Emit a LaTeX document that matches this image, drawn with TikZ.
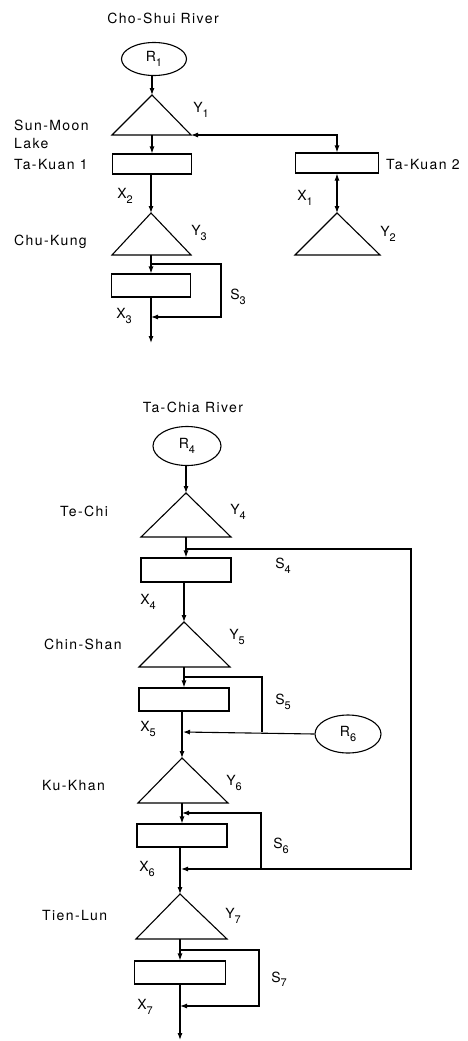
\documentclass[tikz,border=0pt]{standalone}
\usepackage{fontspec}
\setmainfont{TeX Gyre Heros}[LetterSpace=10]
\usetikzlibrary{shapes.geometric,arrows.meta}
\newcommand\sbx[1]{\raisebox{-0.32em}{\fontsize{11}{11}\selectfont #1}}
\tikzset{
  every node/.style={font=\fontsize{14}{16}\selectfont, inner sep=0pt},
  res/.style={draw, ellipse, line width=1.1pt},
  stor/.style={draw, rectangle, line width=1.1pt},
  ln/.style={line width=1.1pt},
  arr/.style={ln, -{Latex[length=7pt,width=5pt]}},
  darr/.style={ln, {Latex[length=7pt,width=5pt]}-{Latex[length=7pt,width=5pt]}},
  lbl/.style={anchor=center},
  sname/.style={anchor=west},
}
\begin{document}
\begin{tikzpicture}[x=1pt,y=-1pt]
\useasboundingbox (0,0) rectangle (467,1041);
% ---------------- Cho-Shui River ----------------
\node (titleA) at (163,18) {Cho-Shui River};
\node[res, minimum width=65pt, minimum height=33pt] (R1) at (154,59) {R\sbx{1}};
% triangle Y1
\coordinate (t1a) at (152,95);
\coordinate (t1l) at (112,135);
\coordinate (t1r) at (191,135);
\coordinate (t1b) at (152,135);
\draw[ln] (t1a) -- (t1l) -- (t1r) -- cycle;
\node[lbl] (lY1) at (201,110) {Y\sbx{1}};
\node[sname] (nSM) at (14,125) {Sun-Moon};
\node[sname] (nLake) at (14,144) {Lake};
\node[sname] (nTK1) at (14,165) {Ta-Kuan 1};
% rect Ta-Kuan 1
\node[stor, minimum width=79pt, minimum height=20pt] (B1) at (152,164) {};
% Ta-Kuan 2
\node[stor, minimum width=83pt, minimum height=20pt] (B2) at (337,163) {};
\node[sname] (nTK2) at (386,165) {Ta-Kuan 2};
\coordinate (t2a) at (337,213);
\coordinate (t2l) at (295,255);
\coordinate (t2r) at (380,255);
\draw[ln] (t2a) -- (t2l) -- (t2r) -- cycle;
\node[lbl] (lY2) at (388,234) {Y\sbx{2}};
\node[lbl] (lX1) at (305,198) {X\sbx{1}};
\node[lbl] (lX2) at (125,196) {X\sbx{2}};
% triangle Y3
\coordinate (t3a) at (151,213);
\coordinate (t3l) at (112,255);
\coordinate (t3r) at (191,255);
\coordinate (t3b) at (151,255);
\draw[ln] (t3a) -- (t3l) -- (t3r) -- cycle;
\node[lbl] (lY3) at (199,233) {Y\sbx{3}};
\node[sname] (nCK) at (14,242) {Chu-Kung};
\node[stor, minimum width=79pt, minimum height=23pt] (B3) at (151,285.5) {};
\node[lbl] (lS3) at (238,297) {S\sbx{3}};
\node[lbl] (lX3) at (124,316) {X\sbx{3}};
\coordinate (s3a) at (151,264);
\coordinate (s3b) at (151,317);
\coordinate (endA) at (151,343);
% connectors top
\draw[arr] (R1.south -| t1a) -- (t1a);
\draw[arr] (t1b) -- (B1.north -| t1b);
\draw[darr] (t1r) -- (t1r -| B2.north) -- (B2.north);
\draw[darr] (B2.south) -- (t2a);
\draw[arr] (B1.south -| t3a) -- (t3a);
\draw[arr] (t3b) -- (B3.north -| t3b);
\draw[arr] (s3a) -- (221,264) -- (221,317) -- (s3b);
\draw[arr] (B3.south -| endA) -- (endA);
% ---------------- Ta-Chia River ----------------
\node (titleB) at (193,407) {Ta-Chia River};
\node[res, minimum width=68pt, minimum height=39pt] (R4) at (187,446) {R\sbx{4}};
% Y4
\coordinate (t4a) at (186,493);
\coordinate (t4l) at (141,537);
\coordinate (t4r) at (231,537);
\coordinate (t4b) at (186,537);
\draw[ln] (t4a) -- (t4l) -- (t4r) -- cycle;
\node[lbl] (lY4) at (238,512) {Y\sbx{4}};
\node[sname] (nTC) at (60,511) {Te-Chi};
\node[stor, minimum width=90pt, minimum height=24pt] (B4) at (186,570) {};
\node[lbl] (lS4) at (283,566) {S\sbx{4}};
\node[lbl] (lX4) at (148,602) {X\sbx{4}};
% Y5
\coordinate (t5a) at (184,622);
\coordinate (t5l) at (139,667);
\coordinate (t5r) at (230,667);
\coordinate (t5b) at (184,667);
\draw[ln] (t5a) -- (t5l) -- (t5r) -- cycle;
\node[lbl] (lY5) at (237,637) {Y\sbx{5}};
\node[sname] (nCS) at (44,644) {Chin-Shan};
\node[stor, minimum width=90pt, minimum height=23pt] (B5) at (184,699.5) {};
\node[lbl] (lS5) at (283,702) {S\sbx{5}};
\node[lbl] (lX5) at (148,729) {X\sbx{5}};
\node[res, minimum width=66pt, minimum height=38pt] (R6) at (348,734) {R\sbx{6}};
% Y6
\coordinate (t6a) at (182,758);
\coordinate (t6l) at (138,803);
\coordinate (t6r) at (228,803);
\coordinate (t6b) at (182,803);
\draw[ln] (t6a) -- (t6l) -- (t6r) -- cycle;
\node[lbl] (lY6) at (234,783) {Y\sbx{6}};
\node[sname] (nKK) at (42,785) {Ku-Khan};
\node[stor, minimum width=90pt, minimum height=23pt] (B6) at (182,835.5) {};
\node[lbl] (lS6) at (281,846) {S\sbx{6}};
\node[lbl] (lX6) at (147,869) {X\sbx{6}};
% Y7
\coordinate (t7a) at (180,894);
\coordinate (t7l) at (136,939);
\coordinate (t7r) at (227,939);
\coordinate (t7b) at (180,939);
\draw[ln] (t7a) -- (t7l) -- (t7r) -- cycle;
\node[lbl] (lY7) at (233,916) {Y\sbx{7}};
\node[sname] (nTL) at (42,915) {Tien-Lun};
\node[stor, minimum width=91pt, minimum height=23pt] (B7) at (180,972.5) {};
\node[lbl] (lS7) at (279,979) {S\sbx{7}};
\node[lbl] (lX7) at (145,1007) {X\sbx{7}};
% junction coordinates
\coordinate (s4a) at (186,549);
\coordinate (s4b) at (181,869);
\coordinate (s5a) at (184,677);
\coordinate (s5b) at (183,732);
\coordinate (s5j) at (262,732);
\coordinate (s6a) at (182,813);
\coordinate (s7a) at (180,950);
\coordinate (s7b) at (180,1006);
\coordinate (endB) at (180,1040);
% connectors bottom
\draw[arr] (R4.south -| t4a) -- (t4a);
\draw[arr] (t4b) -- (B4.north -| t4b);
\draw[arr] (s4a) -- (411,549) -- (411,869) -- (s4b);
\draw[arr] (B4.south -| t5a) -- (t5a);
\draw[arr] (t5b) -- (B5.north -| t5b);
\draw[ln] (s5a) -- (262,677) -- (s5j);
\draw[arr] (R6.west) -- (s5b);
\draw[arr] (B5.south -| t6a) -- (t6a);
\draw[arr] (t6b) -- (B6.north -| t6b);
\draw[arr] (261,869) -- (261,813) -- (s6a);
\draw[arr] (B6.south -| t7a) -- (t7a);
\draw[arr] (t7b) -- (B7.north -| t7b);
\draw[arr] (s7a) -- (259,950) -- (259,1006) -- (s7b);
\draw[arr] (B7.south -| endB) -- (endB);
\end{tikzpicture}
\end{document}
